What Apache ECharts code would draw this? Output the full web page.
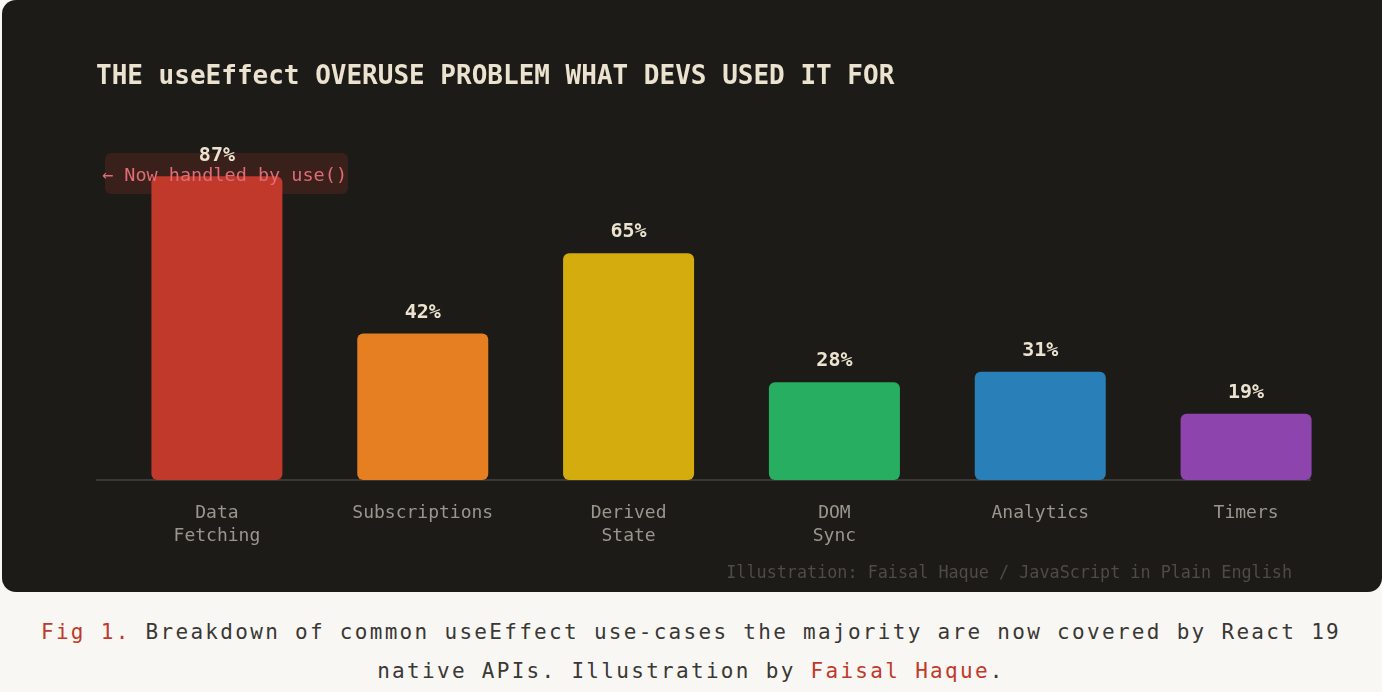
<!DOCTYPE html>
<html>
<head>
<meta charset="utf-8">
<script src="https://cdn.jsdelivr.net/npm/echarts@6/dist/echarts.min.js"></script>
<style>
  html, body { margin: 0; padding: 0; background: #f9f7f3; }
  body { width: 1382px; height: 692px; position: relative; overflow: hidden; }
  #panel {
    position: absolute; left: 2px; top: 0; width: 1380px; height: 592px;
    background: #1d1b17; border-radius: 0 0 14px 14px; border-top-left-radius: 14px;
  }
  #chart { width: 1380px; height: 592px; }
  #caption {
    position: absolute; left: 21px; top: 613px; width: 1340px;
    text-align: center; font-family: "DejaVu Sans Mono", monospace;
    font-size: 21px; letter-spacing: 2.3px; line-height: 39px; color: #3a3835;
  }
  #caption .red { color: #c0392b; }
</style>
</head>
<body>
<div id="panel"><div id="chart"></div></div>
<div id="caption"><span class="red">Fig 1.</span> Breakdown of common useEffect use-cases the majority are now covered by React 19 native APIs. Illustration by <span class="red">Faisal Haque</span>.</div>
<script>
// 数据
const categories = ['Data\nFetching', 'Subscriptions', 'Derived\nState', 'DOM\nSync', 'Analytics', 'Timers']
const values = [87, 42, 65, 28, 31, 19]
const barColors = ['#c0392b', '#e67e22', '#d4ac0d', '#27ae60', '#2980b9', '#8e44ad']

const mono = 'DejaVu Sans Mono'
const chart = echarts.init(document.getElementById('chart'))

const option = {
  backgroundColor: 'transparent',
  title: {
    text: 'THE useEffect OVERUSE PROBLEM WHAT DEVS USED IT FOR',
    left: 94,
    top: 64,
    padding: 0,
    textStyle: {
      color: '#ebe3cf',
      fontFamily: mono,
      fontSize: 26,
      fontWeight: 'bold'
    }
  },
  grid: {
    left: 112,
    right: 33,
    top: 131,
    bottom: 112
  },
  xAxis: {
    type: 'category',
    data: categories,
    axisLine: { show: false },
    axisTick: { show: false },
    axisLabel: {
      color: '#9a968f',
      fontFamily: mono,
      fontSize: 18,
      lineHeight: 23,
      margin: 22,
      interval: 0
    }
  },
  yAxis: {
    type: 'value',
    min: 0,
    max: 100,
    show: false
  },
  graphic: [
    // 基线
    {
      type: 'line',
      z: 1,
      shape: { x1: 94, y1: 480, x2: 1309, y2: 480 },
      style: { stroke: '#3b3935', lineWidth: 2 }
    },
    // 注释框
    {
      type: 'rect',
      z: 1,
      shape: { x: 103, y: 153, width: 243, height: 41, r: 6 },
      style: { fill: 'rgba(192,57,43,0.18)' }
    },
    {
      type: 'text',
      z: 100,
      x: 100,
      y: 176,
      style: {
        text: '← Now handled by use()',
        fill: '#e06c75',
        font: '18.5px "DejaVu Sans Mono"',
        verticalAlign: 'middle'
      }
    },
    {
      type: 'text',
      z: 100,
      x: 1290,
      y: 574,
      style: {
        text: 'Illustration: Faisal Haque / JavaScript in Plain English',
        fill: '#4f4b45',
        font: '16.8px "DejaVu Sans Mono"',
        align: 'right',
        verticalAlign: 'middle'
      }
    }
  ],
  series: [{
    type: 'bar',
    barWidth: 131,
    z: 2,
    data: values.map((v, i) => ({
      value: v,
      itemStyle: { color: barColors[i], borderRadius: 6 }
    })),
    label: {
      show: true,
      position: 'top',
      distance: 11,
      formatter: '{c}%',
      color: '#ebe3cf',
      fontFamily: mono,
      fontSize: 20,
      fontWeight: 'bold'
    }
  }]
}

chart.setOption(option)
</script>
</body>
</html>
